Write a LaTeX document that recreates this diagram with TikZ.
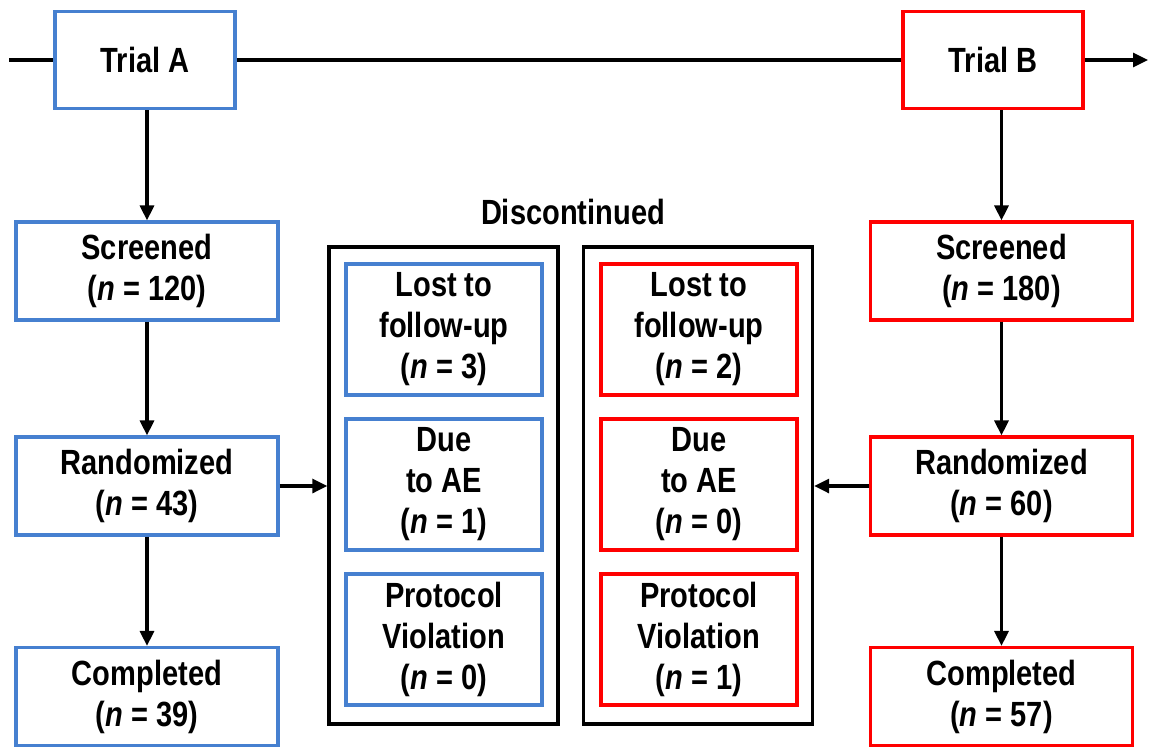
\documentclass[tikz,border=0pt]{standalone}
\usepackage{fontspec}
\setmainfont{Liberation Sans}[FakeStretch=0.83]
\usetikzlibrary{arrows.meta}
\definecolor{tblue}{RGB}{70,128,208}
\definecolor{tred}{RGB}{255,0,0}
\tikzset{
  txt/.style={align=center,font=\fontsize{35}{41}\selectfont\bfseries,inner sep=0pt},
  bbox/.style={txt,draw=tblue,line width=3.2pt,minimum width=262pt,minimum height=98pt},
  rbox/.style={txt,draw=tred,line width=3.2pt,minimum width=262pt,minimum height=98pt},
  tbbox/.style={bbox,minimum width=180pt,minimum height=97pt},
  trbox/.style={rbox,minimum width=180pt,minimum height=97pt},
  ibbox/.style={bbox,minimum width=196pt,minimum height=131pt},
  irbox/.style={rbox,minimum width=196pt,minimum height=131pt},
  frame/.style={draw=black,line width=3.4pt,minimum width=229pt,minimum height=477pt,inner sep=0pt},
  conn/.style={line width=3.2pt,black},
  arr/.style={conn,-{Triangle[length=15pt,width=14pt]}}
}
\begin{document}
\begin{tikzpicture}[x=1pt,y=-1pt]
\useasboundingbox (0,0) rectangle (1152,748);
% top row
\node[tbbox] (ta) at (145,60) {Trial A};
\node[trbox] (tb) at (993,60) {Trial B};
\coordinate (lstart) at (9,60);
\coordinate (rend) at (1148,60);
\draw[conn] (lstart) -- (ta.west);
\draw[conn] (ta.east) -- (tb.west);
\draw[arr] (tb.east) -- (rend);
% left column
\node[bbox] (sa) at (147,271) {Screened\\(\textit{n} = 120)};
\node[bbox] (ra) at (147,486) {Randomized\\(\textit{n} = 43)};
\node[bbox] (ca) at (147,696.5) {Completed\\(\textit{n} = 39)};
% right column
\node[rbox] (sb) at (1001.5,271) {Screened\\(\textit{n} = 180)};
\node[rbox] (rb) at (1001.5,486) {Randomized\\(\textit{n} = 60)};
\node[rbox] (cb) at (1001.5,696.5) {Completed\\(\textit{n} = 57)};
% discontinued
\node[txt] (disc) at (573,212) {Discontinued};
\node[frame] (fa) at (443.5,485.5) {};
\node[frame] (fb) at (698,485.5) {};
\node[ibbox] (la) at (444,329.5) {Lost to\\follow-up\\(\textit{n} = 3)};
\node[ibbox] (da) at (444,484.5) {Due\\to AE\\(\textit{n} = 1)};
\node[ibbox] (pa) at (444,639.5) {Protocol\\Violation\\(\textit{n} = 0)};
\node[irbox] (lb) at (699,329.5) {Lost to\\follow-up\\(\textit{n} = 2)};
\node[irbox] (db) at (699,484.5) {Due\\to AE\\(\textit{n} = 0)};
\node[irbox] (pb) at (699,639.5) {Protocol\\Violation\\(\textit{n} = 1)};
% vertical arrows
\draw[arr] (ta.south -| sa.north) -- (sa.north);
\draw[arr] (sa.south) -- (ra.north);
\draw[arr] (ra.south) -- (ca.north);
\draw[arr] (tb.south -| sb.north) -- (sb.north);
\draw[arr] (sb.south) -- (rb.north);
\draw[arr] (rb.south) -- (cb.north);
% horizontal arrows
\draw[arr] (ra.east) -- (fa.west |- ra.east);
\draw[arr] (rb.west) -- (fb.east |- rb.west);
\end{tikzpicture}
\end{document}
